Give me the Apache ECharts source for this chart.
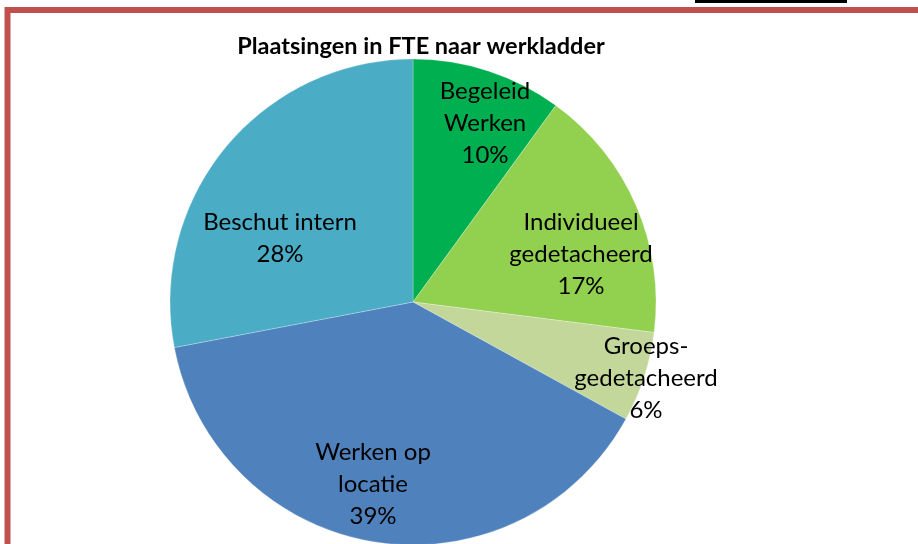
<!DOCTYPE html>
<html>
<head>
<meta charset="utf-8">
<script src="https://cdn.jsdelivr.net/npm/echarts@6/dist/echarts.min.js"></script>
<style>
  html, body { margin: 0; padding: 0; background: #fff; }
  #chart { width: 918px; height: 544px; }
</style>
</head>
<body>
<div id="chart"></div>
<script>
// data
const categories = ['Begeleid\nWerken', 'Individueel\ngedetacheerd', 'Groeps-\ngedetacheerd', 'Werken op\nlocatie', 'Beschut intern']
const percents = [10, 17, 6, 39, 28]
const colors = ['#00b050', '#92d050', '#c4d79b', '#4f81bd', '#4bacc6']
// where each label block sits (text centre, px)
const labelSpots = [[485, 123], [581, 254], [646, 378], [373, 484], [280, 238]]

const myChart = echarts.init(document.getElementById('chart'))

const option = {
  animation: false,
  title: {
    text: 'Plaatsingen in FTE naar werkladder',
    left: 416,
    top: 29,
    textAlign: 'center',
    textStyle: {
      fontFamily: 'Lato',
      fontWeight: 'bold',
      fontSize: 23.5,
      color: '#000'
    }
  },
  graphic: [
    {
      type: 'rect',
      shape: {x: 7.5, y: 10, width: 1000, height: 1000},
      style: {fill: 'none', stroke: '#c0504d', lineWidth: 6}
    },
    {
      type: 'rect',
      shape: {x: 695, y: 0, width: 152, height: 3},
      style: {fill: '#000'}
    }
  ],
  series: [
    {
      type: 'pie',
      center: [413, 302],
      radius: 243,
      startAngle: 90,
      clockwise: true,
      itemStyle: {
        borderColor: 'rgba(255,255,255,0.5)',
        borderWidth: 0.5
      },
      label: {
        show: true,
        position: 'inside',
        formatter: (p) => p.name + '\n' + p.value + '%',
        fontFamily: 'Lato',
        fontSize: 24,
        lineHeight: 32,
        color: '#000',
        align: 'center'
      },
      labelLayout: (p) => ({
        x: labelSpots[p.dataIndex][0],
        y: labelSpots[p.dataIndex][1],
        align: 'center',
        verticalAlign: 'middle'
      }),
      emphasis: {disabled: true},
      data: categories.map((name, i) => ({
        name,
        value: percents[i],
        itemStyle: {color: colors[i]}
      }))
    }
  ]
}

myChart.setOption(option)
</script>
</body>
</html>
